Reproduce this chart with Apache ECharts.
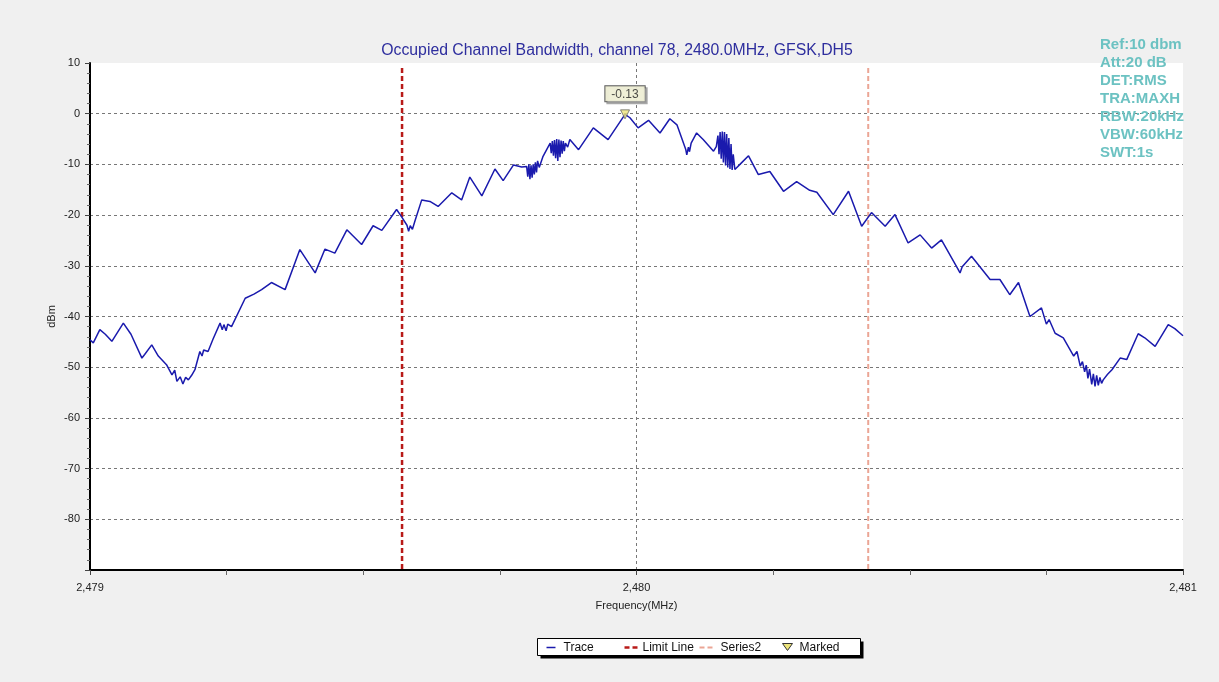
<!DOCTYPE html>
<html>
<head>
<meta charset="utf-8">
<script src="https://cdn.jsdelivr.net/npm/echarts@6/dist/echarts.min.js"></script>
<style>
html,body{margin:0;padding:0;background:#f0f0f0;}
#chart{width:1219px;height:682px;}
</style>
</head>
<body>
<div id="chart"></div>
<script>
// ---- data ----
const titleText = 'Occupied Channel Bandwidth, channel 78, 2480.0MHz, GFSK,DH5';
const infoLines = ['Ref:10 dbm','Att:20 dB','DET:RMS','TRA:MAXH','RBW:20kHz','VBW:60kHz','SWT:1s'];
const xMin = 2479, xMax = 2481, xStep = 1;
const yMin = -90, yMax = 10, yStep = 10;
const limitLineFreq = 2479.571;
const series2Freq = 2480.424;
const markedPoint = [2479.979, -0.13];
const tracePoints = [
[2479.000,-44.6],[2479.006,-45.2],[2479.018,-42.6],[2479.028,-43.5],[2479.040,-44.9],[2479.061,-41.3],
[2479.075,-43.5],[2479.095,-48.2],[2479.100,-47.5],[2479.113,-45.6],[2479.125,-47.8],[2479.140,-49.5],
[2479.150,-51.5],[2479.155,-50.6],[2479.159,-52.8],[2479.165,-51.9],[2479.170,-53.3],[2479.175,-52.0],
[2479.180,-52.5],[2479.186,-51.6],[2479.192,-50.5],[2479.201,-46.9],[2479.205,-47.8],[2479.208,-46.6],
[2479.216,-46.9],[2479.225,-44.5],[2479.238,-41.3],[2479.242,-42.6],[2479.245,-41.6],[2479.249,-42.8],
[2479.252,-41.5],[2479.259,-42.0],[2479.284,-36.4],[2479.300,-35.6],[2479.314,-34.7],[2479.332,-33.3],
[2479.357,-34.7],[2479.384,-26.8],[2479.412,-31.4],[2479.430,-26.7],[2479.448,-27.5],[2479.470,-22.9],
[2479.497,-25.8],[2479.518,-22.1],[2479.534,-23.0],[2479.561,-18.9],[2479.570,-20.3],[2479.580,-22.0],
[2479.583,-23.2],[2479.586,-22.1],[2479.590,-22.8],[2479.595,-21.0],[2479.607,-17.0],[2479.622,-17.3],
[2479.637,-18.3],[2479.662,-15.6],[2479.680,-17.0],[2479.695,-12.5],[2479.717,-16.2],[2479.741,-10.9],
[2479.756,-13.2],[2479.775,-10.1],[2479.790,-10.5],[2479.799,-10.4],[2479.801,-12.4],[2479.803,-10.0],
[2479.805,-12.9],[2479.807,-10.2],[2479.809,-12.6],[2479.811,-10.0],[2479.813,-12.0],[2479.815,-9.6],
[2479.817,-11.6],[2479.819,-9.3],[2479.822,-10.6],[2479.829,-8.4],[2479.842,-5.8],[2479.844,-7.8],
[2479.846,-5.4],[2479.848,-8.3],[2479.850,-5.2],[2479.852,-8.8],[2479.854,-5.0],[2479.856,-9.3],
[2479.858,-5.1],[2479.860,-8.6],[2479.862,-5.3],[2479.864,-7.9],[2479.866,-5.4],[2479.868,-7.4],
[2479.870,-5.8],[2479.874,-6.6],[2479.878,-5.1],[2479.894,-7.1],[2479.921,-2.8],[2479.948,-5.1],
[2479.979,-0.13],[2479.988,-0.8],[2480.003,-2.8],[2480.022,-1.3],[2480.043,-3.8],[2480.061,-1.0],
[2480.074,-2.2],[2480.090,-7.0],[2480.092,-8.1],[2480.095,-6.6],[2480.097,-7.5],[2480.100,-5.8],
[2480.110,-3.8],[2480.122,-5.1],[2480.141,-7.4],[2480.146,-6.5],[2480.149,-4.3],[2480.151,-8.0],
[2480.153,-3.6],[2480.155,-8.9],[2480.157,-3.5],[2480.159,-9.6],[2480.161,-3.6],[2480.163,-10.2],
[2480.165,-4.0],[2480.167,-10.6],[2480.169,-4.8],[2480.171,-10.9],[2480.173,-6.0],[2480.175,-11.1],
[2480.177,-8.0],[2480.180,-11.0],[2480.192,-9.7],[2480.205,-8.3],[2480.223,-12.0],[2480.244,-11.4],
[2480.269,-15.3],[2480.293,-13.4],[2480.317,-15.1],[2480.330,-15.5],[2480.360,-19.9],[2480.388,-15.3],
[2480.412,-22.2],[2480.430,-19.5],[2480.455,-22.2],[2480.473,-19.9],[2480.497,-25.5],[2480.519,-23.9],
[2480.540,-26.5],[2480.558,-24.9],[2480.588,-30.6],[2480.592,-31.4],[2480.596,-30.2],[2480.613,-28.1],
[2480.647,-32.7],[2480.665,-32.7],[2480.683,-35.7],[2480.699,-33.3],[2480.720,-40.0],[2480.741,-38.3],
[2480.750,-41.5],[2480.755,-40.6],[2480.766,-43.3],[2480.781,-44.2],[2480.800,-47.8],[2480.806,-46.9],
[2480.812,-49.8],[2480.816,-48.9],[2480.820,-50.9],[2480.823,-49.6],[2480.826,-52.2],[2480.829,-50.4],
[2480.833,-53.4],[2480.836,-51.3],[2480.839,-53.8],[2480.842,-51.6],[2480.845,-53.6],[2480.848,-52.0],
[2480.851,-53.2],[2480.854,-52.5],[2480.862,-51.4],[2480.870,-50.5],[2480.885,-48.2],[2480.897,-48.5],
[2480.918,-43.4],[2480.930,-44.2],[2480.949,-45.9],[2480.973,-41.6],[2480.985,-42.4],[2481.000,-43.8]
];
const legendNames = ['Trace','Limit Line','Series2','Marked'];

// ---- chart ----
const chart = echarts.init(document.getElementById('chart'), null, {renderer:'canvas'});
function fmtFreq(v){
  if (Math.abs(v - Math.round(v)) > 1e-6) return '';
  const s = String(Math.round(v));
  return s.replace(/(\d)(\d{3})$/, '$1,$2');
}
const FONT = 'Arial, "Liberation Sans", sans-serif';
const traceColor = '#1a1aad', limitColor = '#b81a18', s2Color = '#eba595', markColor = '#ece47a';

// Legend box drawn as graphic elements (layout only; names come from legendNames)
const legendGraphic = {
  type: 'group', left: 537, top: 638,
  children: [
    {type: 'rect', shape: {x: 3, y: 3, width: 323, height: 17}, style: {fill: '#000'}},
    {type: 'rect', shape: {x: 0, y: 0, width: 323, height: 17}, style: {fill: '#fff', stroke: '#000', lineWidth: 1}},
    {type: 'line', shape: {x1: 9, y1: 9, x2: 18, y2: 9}, style: {stroke: traceColor, lineWidth: 1.5}},
    {type: 'text', x: 26, y: 9, style: {text: legendNames[0], font: '12px ' + FONT, fill: '#111', verticalAlign: 'middle'}},
    {type: 'line', shape: {x1: 87, y1: 9, x2: 92, y2: 9}, style: {stroke: limitColor, lineWidth: 2.5}},
    {type: 'line', shape: {x1: 95, y1: 9, x2: 100, y2: 9}, style: {stroke: limitColor, lineWidth: 2.5}},
    {type: 'text', x: 105, y: 9, style: {text: legendNames[1], font: '12px ' + FONT, fill: '#111', verticalAlign: 'middle'}},
    {type: 'line', shape: {x1: 162, y1: 9, x2: 167, y2: 9}, style: {stroke: s2Color, lineWidth: 2}},
    {type: 'line', shape: {x1: 170, y1: 9, x2: 175, y2: 9}, style: {stroke: s2Color, lineWidth: 2}},
    {type: 'text', x: 183, y: 9, style: {text: legendNames[2], font: '12px ' + FONT, fill: '#111', verticalAlign: 'middle'}},
    {type: 'polygon', shape: {points: [[245, 5], [255, 5], [250, 12]]}, style: {fill: markColor, stroke: '#333', lineWidth: 1}},
    {type: 'text', x: 262, y: 9, style: {text: legendNames[3], font: '12px ' + FONT, fill: '#111', verticalAlign: 'middle'}}
  ],
  z: 100
};

const option = {
  animation: false,
  backgroundColor: '#f0f0f0',
  title: {
    text: titleText,
    left: 612, top: 38, textAlign: 'center',
    textStyle: {fontFamily: FONT, fontSize: 15.8, fontWeight: 'normal', color: '#2e2e9e'}
  },
  graphic: [{
    type: 'text', left: 1100, top: 36,
    style: {
      text: infoLines.join('\n'),
      font: 'bold 15px ' + FONT,
      lineHeight: 18,
      fill: '#6cc2c2'
    },
    z: 100
  }, legendGraphic],
  grid: {
    left: 90, right: 36, top: 63, bottom: 112,
    show: true, backgroundColor: '#ffffff', borderWidth: 0
  },
  xAxis: {
    type: 'value', min: xMin, max: xMax, interval: xStep,
    name: 'Frequency(MHz)', nameLocation: 'middle', nameGap: 30,
    nameTextStyle: {fontFamily: FONT, fontSize: 11, color: '#222'},
    axisLine: {show: true, onZero: false, lineStyle: {color: '#000', width: 2}},
    axisTick: {show: true, length: 5, lineStyle: {color: '#444'}},
    minorTick: {show: true, splitNumber: 4, length: 5, lineStyle: {color: '#666'}},
    axisLabel: {formatter: fmtFreq, fontFamily: FONT, fontSize: 11, color: '#222', margin: 12},
    splitLine: {show: true, showMinLine: false, showMaxLine: false, lineStyle: {color: '#777', type: [3, 3], width: 1}}
  },
  yAxis: {
    type: 'value', min: yMin, max: yMax, interval: yStep,
    name: 'dBm', nameLocation: 'middle', nameGap: 33, nameRotate: 90, nameMoveOverlap: false,
    nameTextStyle: {fontFamily: FONT, fontSize: 11, color: '#222'},
    axisLine: {show: true, onZero: false, lineStyle: {color: '#000', width: 2}},
    axisTick: {show: true, length: 5, lineStyle: {color: '#444'}},
    minorTick: {show: true, splitNumber: 5, length: 3, lineStyle: {color: '#666'}},
    axisLabel: {showMinLabel: false, fontFamily: FONT, fontSize: 11, color: '#222', margin: 10},
    splitLine: {show: true, showMinLine: false, showMaxLine: false, lineStyle: {color: '#777', type: [3, 3], width: 1}}
  },
  series: [
    {
      name: 'Trace', type: 'line', data: tracePoints,
      showSymbol: false, symbol: 'none',
      lineStyle: {color: traceColor, width: 1.5},
      itemStyle: {color: traceColor},
      z: 5
    },
    {
      name: 'Limit Line', type: 'line',
      data: [[limitLineFreq, 9], [limitLineFreq, yMin]],
      showSymbol: false, symbol: 'none',
      lineStyle: {color: limitColor, width: 2.5, type: [5, 3]},
      itemStyle: {color: limitColor},
      z: 3
    },
    {
      name: 'Series2', type: 'line',
      data: [[series2Freq, 9], [series2Freq, yMin]],
      showSymbol: false, symbol: 'none',
      lineStyle: {color: s2Color, width: 2, type: [5, 3]},
      itemStyle: {color: s2Color},
      z: 3
    },
    {
      name: 'Marked', type: 'scatter',
      data: [markedPoint],
      symbol: 'triangle', symbolRotate: 180, symbolSize: 9,
      itemStyle: {color: markColor, borderColor: '#666', borderWidth: 1},
      label: {
        show: true, position: 'top', distance: 8,
        formatter: p => String(p.value[1]),
        fontFamily: FONT, fontSize: 12, color: '#222',
        backgroundColor: '#ffffe1', borderColor: '#333', borderWidth: 1,
        padding: [2, 6, 1, 6],
        shadowColor: '#999', shadowOffsetX: 2, shadowOffsetY: 2, shadowBlur: 0
      },
      z: 10
    }
  ]
};
chart.setOption(option);
</script>
</body>
</html>
